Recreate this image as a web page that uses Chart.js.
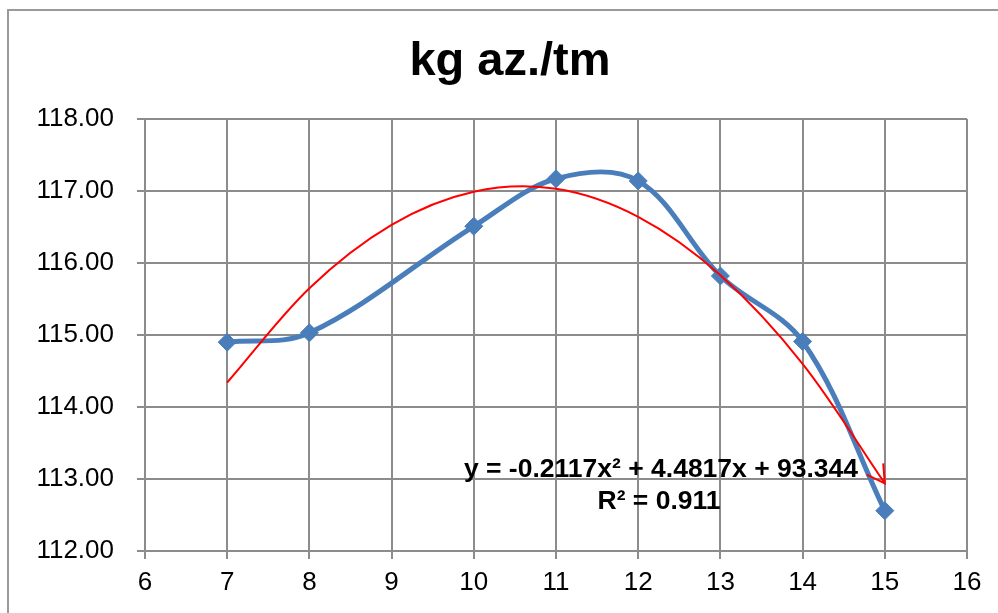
<!DOCTYPE html>
<html>
<head>
<meta charset="utf-8">
<script src="https://cdn.jsdelivr.net/npm/chart.js@4.4.1/dist/chart.umd.min.js"></script>
<style>
html,body{margin:0;padding:0;background:#fff;}
#wrap{width:998px;height:613px;position:relative;overflow:hidden;}
canvas{display:block;}
</style>
</head>
<body>
<div id="wrap"><canvas id="c" width="998" height="613"></canvas></div>
<script>
// ---- data ----
const xValues = [7, 8, 10, 11, 12, 13, 14, 15];
const kgValues = [114.90, 115.03, 116.51, 117.17, 117.14, 115.82, 114.91, 112.56];
const trendX = [7, 8, 9, 10, 11, 12, 13, 14, 15];
const trendValues = [114.34, 115.65, 116.53, 116.99, 117.03, 116.64, 115.83, 114.60, 112.94];
const xTickLabels = ['6', '7', '8', '9', '10', '11', '12', '13', '14', '15', '16'];
const yTickLabels = ['112.00', '113.00', '114.00', '115.00', '116.00', '117.00', '118.00'];
const titleText = 'kg az./tm';
const equationText = 'y = -0.2117x² + 4.4817x + 93.344';
const r2Text = 'R² = 0.911';

const FONT = '"Liberation Sans", Arial, Helvetica, sans-serif';
const GRID = '#8c8c8c';

const kgPoints = xValues.map((x, i) => ({x: x, y: kgValues[i]}));
const trendPoints = trendX.map((x, i) => ({x: x, y: trendValues[i]}));

const decor = {
  id: 'decor',
  beforeDraw(chart) {
    const ctx = chart.ctx;
    ctx.save();
    ctx.fillStyle = '#ffffff';
    ctx.fillRect(0, 0, chart.width, chart.height);
    ctx.strokeStyle = '#9a9a9a';
    ctx.lineWidth = 2;
    ctx.beginPath();
    ctx.moveTo(8, 613);
    ctx.lineTo(8, 10);
    ctx.lineTo(998, 10);
    ctx.stroke();
    ctx.fillStyle = '#000';
    ctx.font = 'bold 47px ' + FONT;
    ctx.textAlign = 'center';
    ctx.textBaseline = 'alphabetic';
    ctx.fillText(titleText, 510, 75);
    ctx.restore();
  },
  afterDatasetsDraw(chart) {
    const ctx = chart.ctx;
    const meta = chart.getDatasetMeta(0);
    const els = meta.data;
    const last = els[els.length - 1];
    let dx = last.x - last.cp1x, dy = last.y - last.cp1y;
    const len = Math.hypot(dx, dy) || 1;
    dx /= len; dy /= len;
    const bx = -dx, by = -dy;
    const L = 20, a = Math.PI / 6;
    const rot = (ang) => [bx * Math.cos(ang) - by * Math.sin(ang), bx * Math.sin(ang) + by * Math.cos(ang)];
    const r1 = rot(a), r2 = rot(-a);
    ctx.save();
    ctx.strokeStyle = '#ff0000';
    ctx.lineWidth = 2;
    ctx.beginPath();
    ctx.moveTo(last.x + r1[0] * L, last.y + r1[1] * L);
    ctx.lineTo(last.x, last.y);
    ctx.lineTo(last.x + r2[0] * L, last.y + r2[1] * L);
    ctx.stroke();
    ctx.restore();
  },
  afterDraw(chart) {
    const ctx = chart.ctx;
    ctx.save();
    ctx.fillStyle = '#000';
    ctx.font = 'bold 26.5px ' + FONT;
    ctx.textAlign = 'center';
    ctx.textBaseline = 'alphabetic';
    ctx.fillText(equationText, 661, 477);
    ctx.fillText(r2Text, 659, 509);
    ctx.restore();
  }
};

new Chart(document.getElementById('c'), {
  type: 'line',
  data: {
    datasets: [
      {
        label: 'Trend',
        data: trendPoints,
        borderColor: '#ff0000',
        borderWidth: 2,
        pointRadius: 0,
        fill: false,
        tension: 0.33
      },
      {
        label: 'kg az./tm',
        data: kgPoints,
        borderColor: '#4a7ebb',
        backgroundColor: '#4a7ebb',
        borderWidth: 5,
        pointStyle: 'rectRot',
        pointRadius: 9,
        pointBorderWidth: 1,
        pointBorderColor: '#4a7ebb',
        pointBackgroundColor: '#4a7ebb',
        fill: false,
        tension: 0.35
      }
    ]
  },
  options: {
    responsive: false,
    animation: false,
    devicePixelRatio: 1,
    layout: {padding: {top: 119, right: 31, bottom: 0, left: 0}},
    plugins: {
      legend: {display: false},
      title: {display: false},
      tooltip: {enabled: false}
    },
    scales: {
      x: {
        type: 'linear',
        min: 6,
        max: 16,
        afterFit: s => { s.height = 62; },
        afterBuildTicks: s => { s.ticks = xTickLabels.map(t => ({value: Number(t)})); },
        ticks: {
          stepSize: 1,
          color: '#000',
          font: {family: FONT, size: 26},
          padding: 8,
          maxRotation: 0,
          callback: (v) => xTickLabels[xTickLabels.indexOf(String(v))] ?? ''
        },
        grid: {color: GRID, lineWidth: 2, tickLength: 8, drawTicks: true},
        border: {color: GRID, width: 2}
      },
      y: {
        type: 'linear',
        min: 112,
        max: 118,
        afterFit: s => { s.width = 145; },
        afterBuildTicks: s => { s.ticks = yTickLabels.map(t => ({value: Number(t)})); },
        ticks: {
          stepSize: 1,
          color: '#000',
          font: {family: FONT, size: 26},
          padding: 23,
          callback: (v) => yTickLabels.find(t => Number(t) === v) ?? ''
        },
        grid: {color: GRID, lineWidth: 2, tickLength: 8, drawTicks: true},
        border: {color: GRID, width: 2}
      }
    }
  },
  plugins: [decor]
});
</script>
</body>
</html>
